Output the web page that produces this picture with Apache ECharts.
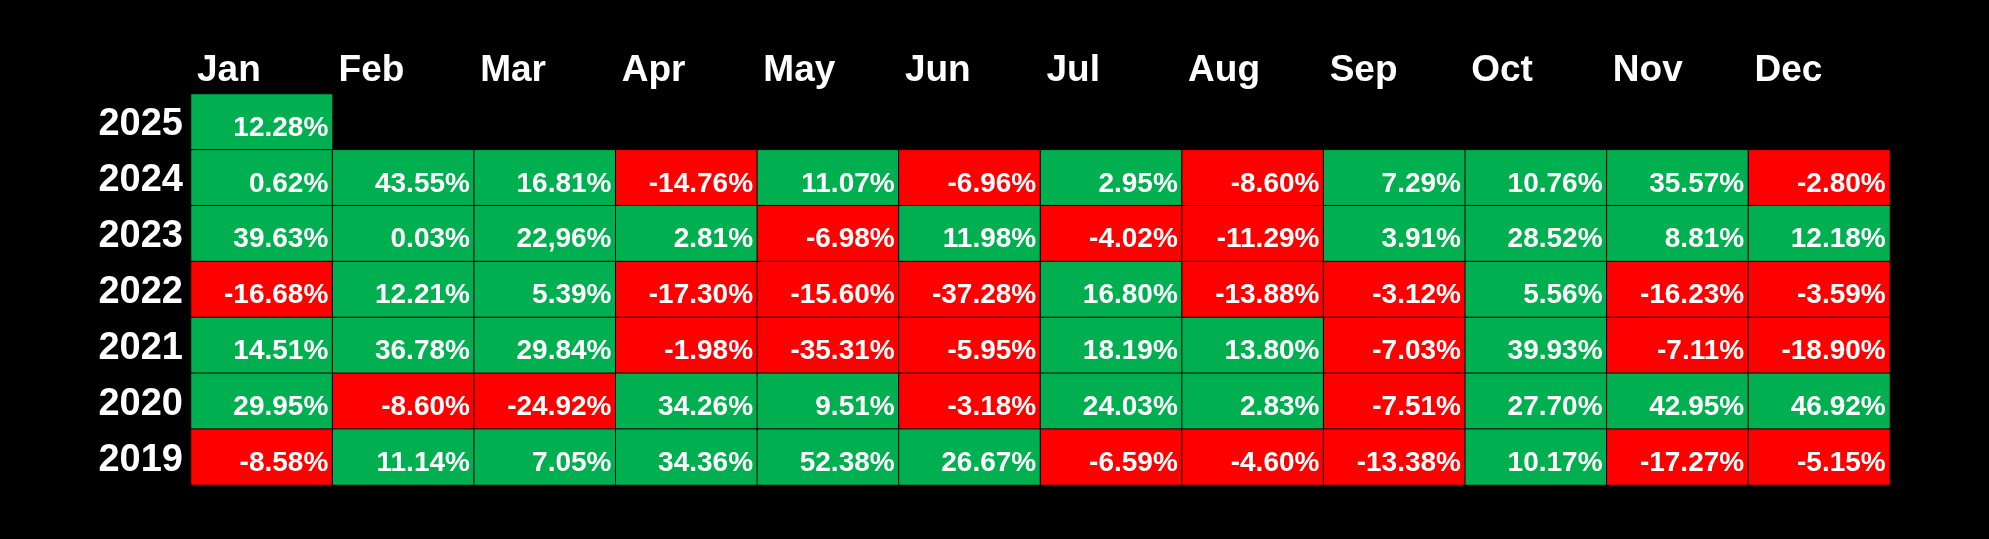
<!DOCTYPE html>
<html>
<head>
<meta charset="utf-8">
<script src="https://cdn.jsdelivr.net/npm/echarts@6/dist/echarts.min.js"></script>
<style>
html,body{margin:0;padding:0;background:#000;}
#chart{width:1989px;height:539px;}
</style>
</head>
<body>
<div id="chart"></div>
<script>
// ---- data (as displayed, percent) ----
const months = ['Jan','Feb','Mar','Apr','May','Jun','Jul','Aug','Sep','Oct','Nov','Dec'];
const years = ['2025','2024','2023','2022','2021','2020','2019'];
const r2025 = ['12.28'];
const r2024 = ['0.62','43.55','16.81','-14.76','11.07','-6.96','2.95','-8.60','7.29','10.76','35.57','-2.80'];
const r2023 = ['39.63','0.03','22,96','2.81','-6.98','11.98','-4.02','-11.29','3.91','28.52','8.81','12.18'];
const r2022 = ['-16.68','12.21','5.39','-17.30','-15.60','-37.28','16.80','-13.88','-3.12','5.56','-16.23','-3.59'];
const r2021 = ['14.51','36.78','29.84','-1.98','-35.31','-5.95','18.19','13.80','-7.03','39.93','-7.11','-18.90'];
const r2020 = ['29.95','-8.60','-24.92','34.26','9.51','-3.18','24.03','2.83','-7.51','27.70','42.95','46.92'];
const r2019 = ['-8.58','11.14','7.05','34.36','52.38','26.67','-6.59','-4.60','-13.38','10.17','-17.27','-5.15'];
const rows = [r2025, r2024, r2023, r2022, r2021, r2020, r2019];

const data = [];
rows.forEach((row, yi) => {
  row.forEach((txt, mi) => {
    data.push({ value: [mi, yi, parseFloat(txt.replace(',', '.'))], label: { formatter: txt + '%' } });
  });
});

const FONT = "'Liberation Sans', Arial, sans-serif";
const chart = echarts.init(document.getElementById('chart'));
chart.setOption({
  backgroundColor: '#000',
  animation: false,
  grid: { left: 191, right: 99, top: 94, bottom: 54 },
  xAxis: [
    { type: 'category', data: months, position: 'top',
      axisLine: { show: false }, axisTick: { show: false }, axisLabel: { show: false }, splitLine: { show: false } },
    { type: 'category', data: months.concat(['']), position: 'top', boundaryGap: false,
      axisLine: { show: false }, axisTick: { show: false }, splitLine: { show: false },
      axisLabel: { show: true, interval: 0, align: 'left', padding: [0, 0, 0, 6], margin: 5,
        color: '#fff', fontFamily: FONT, fontWeight: 'bold', fontSize: 37 } }
  ],
  yAxis: {
    type: 'category', data: years, inverse: true,
    axisLine: { show: false }, axisTick: { show: false }, splitLine: { show: false },
    axisLabel: { color: '#fff', fontFamily: FONT, fontWeight: 'bold', fontSize: 38, margin: 8,
      verticalAlign: 'top', lineHeight: 6 }
  },
  visualMap: {
    show: false, type: 'piecewise', dimension: 2,
    pieces: [{ lt: 0, color: '#FF0000' }, { gte: 0, color: '#00B050' }]
  },
  series: [{
    type: 'heatmap',
    xAxisIndex: 0,
    data: data,
    itemStyle: { borderColor: '#000', borderWidth: 1 },
    label: { show: true, position: 'insideRight', distance: 5, offset: [0, 6],
      color: '#fff', fontFamily: FONT, fontWeight: 'bold', fontSize: 28 },
    emphasis: { disabled: true }
  }]
});
</script>
</body>
</html>
